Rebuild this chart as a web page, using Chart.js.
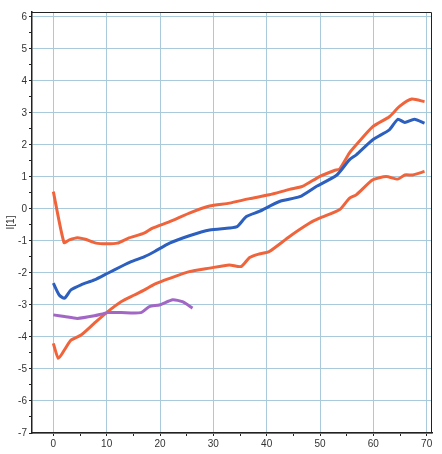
<!DOCTYPE html>
<html>
<head>
<meta charset="utf-8">
<script src="https://cdn.jsdelivr.net/npm/chart.js@4"></script>
<style>
  html, body { margin: 0; padding: 0; background: #fff; }
  #wrap { width: 442px; height: 454px; }
</style>
</head>
<body>
<div id="wrap"><canvas id="c"></canvas></div>
<script>
// upper orange band
const upperX = [0, 2, 3, 4.5, 6, 8, 10, 12, 14, 17, 18.6, 21.8, 25.5, 29.3, 33, 36.8, 40.5, 44.3, 46.7, 49.9, 52.7, 53.7, 55.5, 56.8, 59.9, 63, 64.9, 67.2, 69.6];
const upperY = [0.54, -1.05, -0.97, -0.9, -0.95, -1.07, -1.09, -1.07, -0.92, -0.76, -0.6, -0.4, -0.13, 0.09, 0.18, 0.32, 0.44, 0.61, 0.7, 1.01, 1.2, 1.25, 1.74, 2.0, 2.57, 2.88, 3.2, 3.43, 3.35];

// blue middle line
const midX = [0, 1.1, 2.1, 3.3, 5.2, 7.7, 10.2, 12.7, 14.6, 17.1, 19, 21.8, 25.5, 29.3, 33, 34.5, 36.2, 38.6, 42.4, 46.2, 49.3, 53.1, 55.5, 56.8, 59.9, 63, 64.6, 65.9, 67.7, 69.6];
const midY = [-2.32, -2.69, -2.79, -2.53, -2.37, -2.22, -2.01, -1.8, -1.65, -1.49, -1.33, -1.07, -0.84, -0.66, -0.6, -0.55, -0.24, -0.08, 0.23, 0.38, 0.7, 1.05, 1.53, 1.69, 2.16, 2.47, 2.8, 2.7, 2.8, 2.68];

// lower orange band
const lowerX = [0, 0.94, 2.1, 3.3, 5.2, 7.7, 10.2, 12.7, 15.2, 17.1, 19, 21.8, 25.5, 29.3, 33, 35.2, 36.8, 38.6, 40.5, 44.3, 48, 49.9, 53.7, 55.5, 56.8, 59.9, 62.4, 64.6, 65.9, 67.4, 69.6];
const lowerY = [-4.2, -4.67, -4.4, -4.1, -3.94, -3.57, -3.21, -2.9, -2.69, -2.53, -2.35, -2.17, -1.96, -1.85, -1.75, -1.8, -1.52, -1.41, -1.33, -0.86, -0.45, -0.29, -0.02, 0.33, 0.44, 0.91, 1.01, 0.93, 1.06, 1.06, 1.17];

// purple short line
const purpleX = [0, 2.1, 4.5, 7.7, 10.2, 12.7, 16.4, 18, 19.9, 22.4, 24.2, 26.1];
const purpleY = [-3.31, -3.36, -3.42, -3.34, -3.24, -3.24, -3.24, -3.05, -3.0, -2.84, -2.9, -3.1];

// x tick positions (labels on every 10, minor ticks on 5)
const xTicks = [0, 5, 10, 15, 20, 25, 30, 35, 40, 45, 50, 55, 60, 65, 70];

const yTitle = 'I[1]';

function pts(xs, ys) {
  return xs.map((x, i) => ({ x: x, y: ys[i] }));
}

const orange = '#f0643c';
const blue = '#2c5fbe';
const purple = '#a266c4';
const gridBlue = '#a9cadb';

// frame on top and right of the plot
const frame = {
  id: 'frame',
  afterDraw(chart) {
    const a = chart.chartArea;
    const ctx = chart.ctx;
    ctx.save();
    ctx.strokeStyle = '#222';
    ctx.lineWidth = 1;
    ctx.beginPath();
    ctx.moveTo(a.left, a.top + 0.5);
    ctx.lineTo(a.right - 0.5, a.top + 0.5);
    ctx.lineTo(a.right - 0.5, a.bottom);
    ctx.stroke();
    ctx.restore();
  }
};

const lineStyle = { borderWidth: 3, pointRadius: 0, tension: 0.2, fill: false };

new Chart(document.getElementById('c'), {
  type: 'line',
  data: {
    datasets: [
      Object.assign({ data: pts(purpleX, purpleY), borderColor: purple }, lineStyle),
      Object.assign({ data: pts(lowerX, lowerY), borderColor: orange }, lineStyle),
      Object.assign({ data: pts(midX, midY), borderColor: blue }, lineStyle),
      Object.assign({ data: pts(upperX, upperY), borderColor: orange }, lineStyle)
    ]
  },
  options: {
    responsive: true,
    maintainAspectRatio: false,
    animation: false,
    layout: { padding: { top: 12, right: 10, left: 0, bottom: 0 } },
    plugins: { legend: { display: false }, tooltip: { enabled: false } },
    scales: {
      x: {
        type: 'linear',
        min: -4,
        max: 71,
        afterFit: s => { s.height = 21; },
        afterBuildTicks: s => { s.ticks = xTicks.map(v => ({ value: v })); },
        border: { color: '#222', width: 1.5 },
        grid: {
          color: c => (c.tick && c.tick.value % 10 === 0) ? gridBlue : 'rgba(0,0,0,0)',
          tickColor: '#222',
          tickLength: 3
        },
        ticks: {
          maxRotation: 0,
          autoSkip: false,
          padding: 2,
          color: '#333',
          font: { family: 'Liberation Sans', size: 10 },
          callback: v => (v % 10 === 0 ? v : '')
        }
      },
      y: {
        min: -7,
        max: 6.15,
        afterFit: s => { s.width = 32; },
        border: { color: '#222', width: 1.5 },
        grid: {
          color: c => (c.tick && Number.isInteger(c.tick.value)) ? gridBlue : 'rgba(0,0,0,0)',
          tickColor: '#222',
          tickLength: 3
        },
        title: {
          display: true,
          text: yTitle,
          color: '#333',
          padding: { top: 5, bottom: 0 },
          font: { family: 'Liberation Sans', size: 10 }
        },
        ticks: {
          stepSize: 0.5,
          includeBounds: false,
          autoSkip: false,
          padding: 2,
          color: '#333',
          font: { family: 'Liberation Sans', size: 10 },
          callback: v => (Number.isInteger(v) ? v : '')
        }
      }
    }
  },
  plugins: [frame]
});
</script>
</body>
</html>
